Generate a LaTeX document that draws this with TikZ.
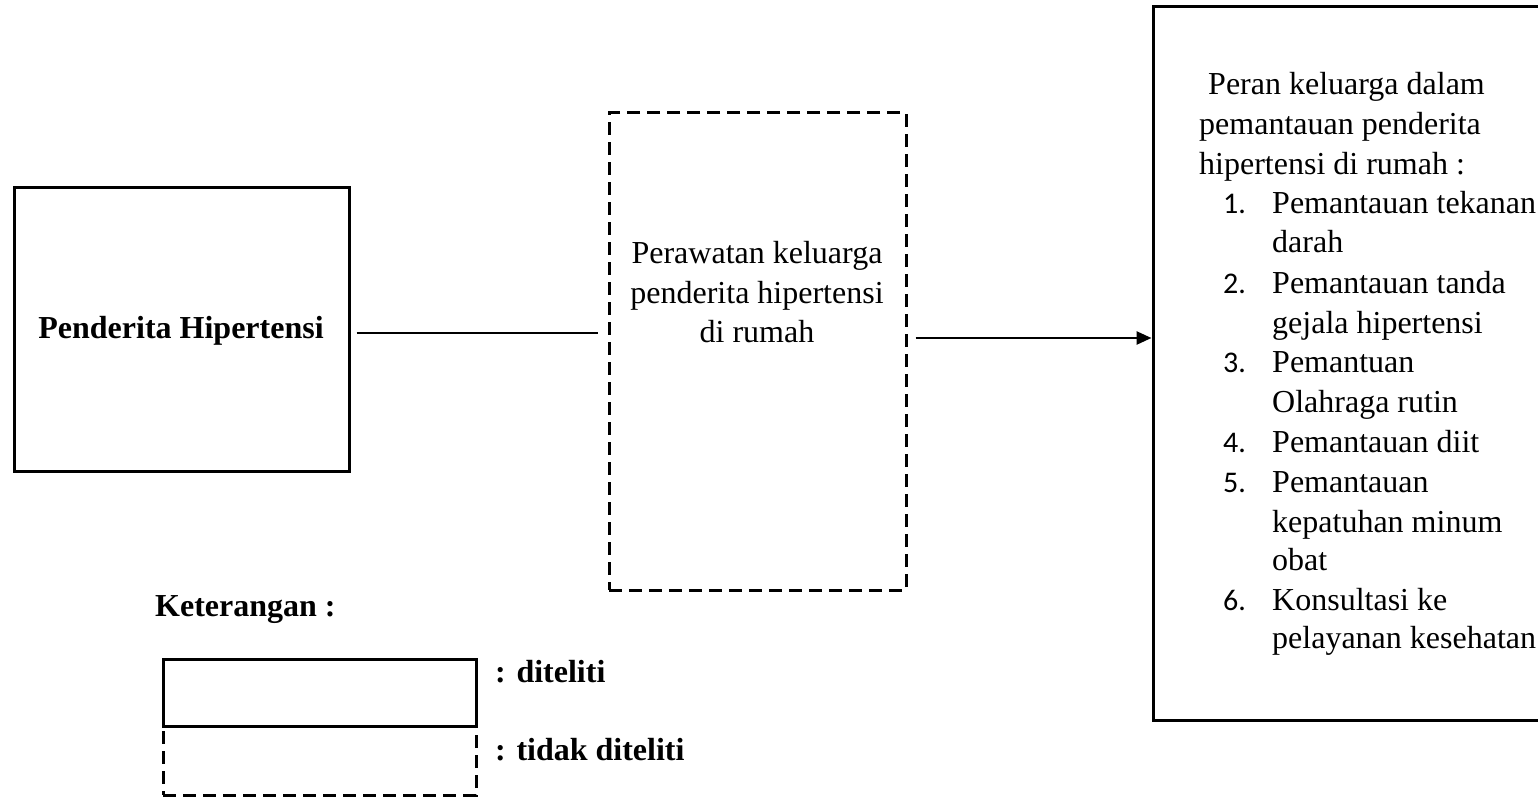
\documentclass[tikz,border=0pt]{standalone}
\usepackage{fontspec}
\setmainfont{Liberation Serif}
\newfontfamily\numfont{Carlito}
\usetikzlibrary{arrows.meta}
\begin{document}
\begin{tikzpicture}[x=1pt,y=-1pt,
  txt/.style={font=\fontsize{32}{39.5}\selectfont, inner sep=0pt},
  btxt/.style={font=\fontsize{32}{39.5}\selectfont\bfseries, inner sep=0pt},
  solidbox/.style={draw, line width=3pt, inner sep=0pt},
  dashbox/.style={draw, line width=3pt, inner sep=0pt, dash pattern=on 13pt off 7pt},
  conn/.style={line width=2.6pt},
  lbl/.style={txt, anchor=base west},
  blbl/.style={btxt, anchor=base west},
  num/.style={anchor=base west, inner sep=0pt, font=\fontsize{30}{39.5}\numfont}]
\useasboundingbox (0,0) rectangle (1538,797);
\clip (0,0) rectangle (1538,797);
% boxes
\node[solidbox, minimum width=335pt, minimum height=284pt] (pend) at (181.5,329) {};
\node[dashbox, minimum width=297pt, minimum height=477pt] (mid) at (757.5,351.5) {};
\node[solidbox, minimum width=427pt, minimum height=713pt] (right) at (1366.5,363.5) {};
% texts
\node[btxt, anchor=base] (pendt) at (181,338) {Penderita Hipertensi};
\node[txt, anchor=base] (m1) at (757,263) {Perawatan keluarga};
\node[txt, anchor=base] (m2) at (757,303) {penderita hipertensi};
\node[txt, anchor=base] (m3) at (757,342) {di rumah};
\node[lbl] (r1) at (1208,95) {Peran keluarga dalam};
\node[lbl] (r2) at (1199,135) {pemantauan penderita};
\node[lbl] (r3) at (1199,174) {hipertensi di rumah :};
\node[num] (n1) at (1223,213) {1.};
\node[lbl] (i1a) at (1272,213) {Pemantauan tekanan};
\node[lbl] (i1b) at (1272,252) {darah};
\node[num] (n2) at (1223,293) {2.};
\node[lbl] (i2a) at (1272,293) {Pemantauan tanda};
\node[lbl] (i2b) at (1272,333) {gejala hipertensi};
\node[num] (n3) at (1223,372) {3.};
\node[lbl] (i3a) at (1272,372) {Pemantuan};
\node[lbl] (i3b) at (1272,412) {Olahraga rutin};
\node[num] (n4) at (1223,452) {4.};
\node[lbl] (i4a) at (1272,452) {Pemantauan diit};
\node[num] (n5) at (1223,492) {5.};
\node[lbl] (i5a) at (1272,492) {Pemantauan};
\node[lbl] (i5b) at (1272,532) {kepatuhan minum};
\node[lbl] (i5c) at (1272,570) {obat};
\node[num] (n6) at (1223,610) {6.};
\node[lbl] (i6a) at (1272,610) {Konsultasi ke};
\node[lbl] (i6b) at (1272,648) {pelayanan kesehatan};
% legend
\node[blbl] (ket) at (155,616) {Keterangan :};
\node[solidbox, minimum width=313pt, minimum height=67pt] (leg1) at (319.5,692.5) {};
\node[dashbox, minimum width=313pt, minimum height=69pt] (leg2) at (319.5,760.5) {};
\node[blbl] (leg1t) at (495,682) {: diteliti};
\node[blbl] (leg2t) at (495,760) {: tidak diteliti};
% connectors
\coordinate (l1) at (0,333);
\coordinate (l2) at (0,338);
\draw[conn, shorten <=6pt, shorten >=10pt] (pend.east |- l1) -- (mid.west |- l1);
\draw[conn, shorten <=8pt, -{Triangle[length=15pt,width=13pt]}] (mid.east |- l2) -- (right.west |- l2);
\end{tikzpicture}
\end{document}
